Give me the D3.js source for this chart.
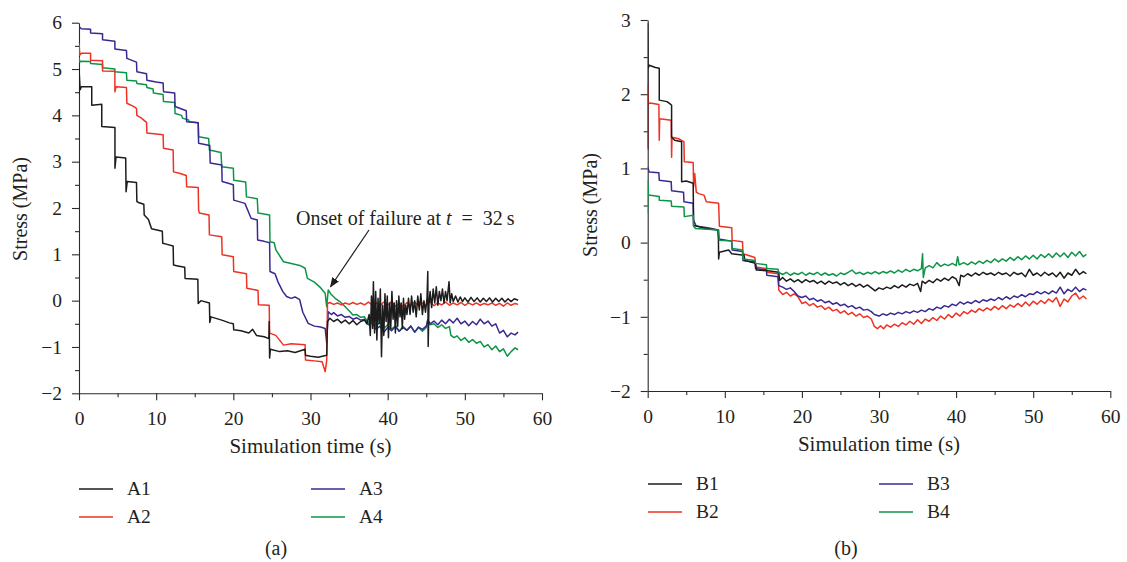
<!DOCTYPE html>
<html>
<head>
<meta charset="utf-8">
<script src="https://cdn.jsdelivr.net/npm/d3@7/dist/d3.min.js"></script>
<style>
  html, body { margin: 0; padding: 0; background: #fff; }
  svg text { font-family: "Liberation Serif", "DejaVu Serif", serif; fill: #231f20; }
</style>
</head>
<body>
<svg id="chart" width="1127" height="562"></svg>
<script>
// ---- Panel (a): stress histories at points A1–A4, [time s, stress MPa] ----
const seriesA1 = [[0,4.45],[0,5.0],[0.15,4.55],[0.3,4.62],[1.65,4.62],[1.65,4.22],[2.95,4.24],[2.95,3.76],[4.66,3.74],[4.66,2.86],[4.8,3.1],[6.05,3.08],[6.1,2.35],[6.25,2.57],[7.45,2.55],[7.5,2.14],[7.7,2.12],[8.4,2.08],[8.45,1.85],[9.0,1.75],[9.4,1.55],[10.8,1.5],[10.85,1.24],[11.3,1.22],[12.2,1.18],[12.25,0.77],[12.8,0.75],[13.7,0.72],[13.75,0.48],[15.4,0.46],[15.45,-0.06],[15.8,0.0],[16.9,-0.05],[16.95,-0.47],[17.1,-0.35],[18.5,-0.42],[19.5,-0.48],[20.0,-0.5],[20.05,-0.63],[21,-0.65],[22,-0.7],[22.5,-0.62],[23,-0.75],[24,-0.78],[24.6,-0.82],[24.65,-0.45],[24.7,-1.24],[24.8,-1.05],[26,-1.1],[27,-1.08],[28,-1.12],[29.3,-1.05],[29.35,-1.18],[30,-1.2],[31,-1.22],[32.1,-1.18],[32.2,-0.45],[32.5,-0.38],[33,-0.45],[33.5,-0.4],[34,-0.48],[34.5,-0.42],[35,-0.5],[35.5,-0.43],[36,-0.52],[36.5,-0.45],[37,-0.42],[37.3,-0.5],[37.6,-0.3],[37.75,-0.75],[37.9,0.1],[38.05,-0.6],[38.15,0.41],[38.3,-0.7],[38.45,0.2],[38.6,-0.85],[38.75,0.05],[38.9,-0.5],[39.05,0.25],[39.2,-1.21],[39.35,-0.1],[39.5,-0.75],[39.65,0.15],[39.8,-0.45],[39.95,0.1],[40.1,-0.8],[40.25,-0.05],[40.4,-0.6],[40.55,0.2],[40.7,-0.4],[40.85,-0.05],[41.0,-0.7],[41.15,0.0],[41.3,-0.55],[41.45,0.1],[41.6,-0.35],[41.75,-0.05],[41.9,-0.6],[42.05,0.05],[42.2,-0.4],[42.35,-0.1],[42.5,-0.3],[42.7,0.05],[42.9,-0.3],[43.1,0.1],[43.3,-0.25],[43.5,0.0],[43.7,-0.35],[43.9,0.1],[44.1,-0.2],[44.3,0.15],[44.5,-0.3],[44.7,0.0],[44.9,-0.25],[45.1,0.05],[45.2,0.63],[45.25,-0.99],[45.35,-0.1],[45.5,0.2],[45.7,-0.15],[45.9,0.25],[46.1,-0.05],[46.3,0.3],[46.5,-0.1],[46.7,0.2],[46.9,0.0],[47.1,0.25],[47.3,-0.05],[47.5,0.2],[47.7,0.0],[47.95,0.41],[48.1,-0.05],[48.3,0.15],[48.5,-0.02],[48.8,0.1],[49.1,-0.03],[49.4,0.08],[49.7,-0.02],[50,0.06],[50.4,-0.03],[50.8,0.07],[51.2,-0.02],[51.6,0.06],[52,-0.03],[52.4,0.05],[52.8,-0.02],[53.2,0.06],[53.6,-0.03],[54,0.05],[54.4,-0.02],[54.8,0.05],[55.2,-0.03],[55.6,0.04],[56,-0.02],[56.4,0.04],[56.9,0.01]];
const seriesA2 = [[0,5.55],[0.1,5.3],[0.3,5.34],[1.5,5.34],[1.5,5.19],[3.05,5.18],[3.05,4.96],[4.65,4.95],[4.65,4.51],[4.8,4.62],[6.15,4.6],[6.2,4.26],[7.0,4.2],[7.45,4.15],[7.5,4.0],[8.0,3.95],[8.75,3.85],[8.8,3.62],[10.9,3.58],[10.95,3.29],[12.2,3.25],[12.25,2.78],[13.0,2.75],[13.9,2.7],[13.95,2.46],[15.45,2.44],[15.5,1.96],[15.6,1.89],[16.85,1.85],[16.9,1.42],[18.5,1.38],[18.55,0.99],[20.0,0.95],[20.05,0.63],[21.7,0.58],[21.75,0.27],[23.2,0.22],[23.25,-0.09],[24.65,-0.1],[24.7,-0.7],[25.5,-0.75],[26.5,-0.96],[27.5,-0.93],[29.3,-0.95],[29.35,-1.28],[30.5,-1.3],[31.5,-1.32],[31.9,-1.53],[32.1,-1.3],[32.2,-0.06],[32.5,-0.04],[33,-0.08],[33.5,-0.05],[34,-0.09],[34.5,-0.05],[35,-0.08],[35.5,-0.04],[36,-0.08],[36.5,-0.05],[37,-0.09],[37.5,-0.03],[38,-0.1],[38.5,-0.04],[39,-0.11],[39.5,-0.03],[40,-0.1],[40.5,-0.02],[41,-0.12],[41.5,-0.05],[42,-0.13],[42.5,-0.04],[43,-0.1],[43.5,-0.03],[44,-0.12],[44.5,-0.05],[45,-0.1],[45.5,-0.02],[46,-0.11],[46.5,-0.05],[47,-0.09],[47.5,-0.03],[48,-0.1],[48.5,-0.05],[49,-0.09],[49.5,-0.04],[50,-0.1],[50.5,-0.05],[51,-0.09],[51.5,-0.05],[52,-0.1],[52.5,-0.06],[53,-0.09],[53.5,-0.05],[54,-0.1],[54.5,-0.06],[55,-0.12],[55.5,-0.05],[56,-0.1],[56.5,-0.06],[56.9,-0.08]];
const seriesA3 = [[0,5.92],[0.3,5.87],[1.5,5.86],[1.5,5.78],[3.05,5.76],[3.05,5.63],[4.65,5.6],[4.65,5.43],[6.15,5.4],[6.2,5.23],[7.45,5.15],[7.5,4.94],[8.75,4.9],[8.8,4.76],[10.0,4.72],[10.9,4.7],[10.95,4.51],[12.4,4.48],[12.45,4.19],[13.9,4.1],[13.95,3.86],[15.45,3.84],[15.5,3.40],[16.95,3.35],[17.0,2.97],[18.5,2.93],[18.55,2.57],[20.0,2.5],[20.05,2.17],[21.5,2.1],[22.3,1.78],[23.1,1.74],[23.15,1.31],[24.0,1.28],[24.7,1.25],[24.75,0.63],[25.4,0.58],[25.8,0.4],[26.4,0.2],[26.9,0.09],[27.5,0.05],[28.0,0.08],[28.6,0.02],[29.0,-0.25],[29.7,-0.49],[30.5,-0.55],[31.3,-0.57],[31.9,-0.6],[32.1,-0.92],[32.3,-0.24],[32.7,-0.3],[33,-0.26],[33.5,-0.33],[34,-0.3],[34.5,-0.36],[35,-0.34],[35.5,-0.4],[36,-0.37],[36.5,-0.42],[37,-0.4],[37.5,-0.52],[38,-0.48],[38.5,-0.62],[39,-0.55],[39.5,-0.68],[40,-0.58],[40.5,-0.65],[41,-0.56],[41.5,-0.66],[42,-0.58],[42.5,-0.64],[43,-0.55],[43.5,-0.68],[44,-0.57],[44.5,-0.62],[45,-0.55],[45.2,-0.42],[45.5,-0.5],[46,-0.44],[46.5,-0.52],[47,-0.42],[47.5,-0.5],[48,-0.4],[48.5,-0.48],[49,-0.38],[49.5,-0.5],[50,-0.44],[50.5,-0.54],[51,-0.45],[51.5,-0.52],[52,-0.4],[52.5,-0.5],[53,-0.44],[53.5,-0.55],[54,-0.5],[54.5,-0.7],[55,-0.64],[55.5,-0.78],[56,-0.7],[56.5,-0.74],[56.9,-0.68]];
const seriesA4 = [[0,5.25],[0.1,5.15],[0.3,5.17],[1.5,5.16],[1.5,5.12],[3.05,5.1],[3.05,5.03],[4.65,5.0],[4.65,4.94],[6.15,4.92],[6.2,4.76],[7.45,4.74],[7.5,4.69],[8.75,4.66],[8.8,4.6],[9.6,4.57],[9.65,4.48],[10.9,4.45],[10.95,4.3],[12.4,4.28],[12.45,4.04],[13.3,4.0],[13.4,3.94],[14.2,3.9],[14.3,3.86],[15.45,3.84],[15.5,3.54],[16.8,3.5],[16.9,3.25],[18.4,3.2],[18.5,2.89],[20.0,2.86],[20.05,2.6],[21.6,2.56],[21.7,2.24],[23.1,2.2],[23.2,1.89],[24.7,1.85],[24.75,1.27],[25.3,1.25],[25.5,1.1],[26.5,0.84],[27.5,0.8],[28.6,0.76],[29.3,0.7],[29.6,0.48],[30.5,0.4],[31.3,0.28],[31.9,0.16],[32.1,-0.13],[32.3,0.23],[32.6,0.15],[33.2,0.05],[33.8,-0.02],[34.3,-0.1],[35,-0.22],[35.5,-0.31],[36,-0.3],[36.5,-0.36],[37,-0.35],[37.5,-0.48],[38,-0.42],[38.5,-0.55],[39,-0.47],[39.5,-0.6],[40,-0.52],[40.5,-0.62],[41,-0.54],[41.5,-0.66],[42,-0.56],[42.5,-0.64],[43,-0.55],[43.5,-0.68],[44,-0.58],[44.5,-0.66],[45,-0.58],[45.2,-0.4],[45.5,-0.52],[46,-0.5],[46.5,-0.58],[47,-0.52],[47.5,-0.6],[48,-0.56],[48.2,-0.75],[48.6,-0.8],[49,-0.76],[49.5,-0.86],[50,-0.8],[50.5,-0.9],[51,-0.84],[51.5,-0.92],[52,-0.88],[52.5,-1.0],[53,-0.95],[53.5,-1.06],[54,-0.98],[54.5,-1.1],[55,-1.04],[55.5,-1.2],[56,-1.1],[56.5,-1.02],[56.9,-1.06]];

// ---- Panel (b): stress histories at points B1–B4 ----
const seriesB1 = [[0,1.25],[0,2.95],[0.05,2.35],[0.2,2.39],[1.0,2.36],[1.5,2.35],[1.5,1.92],[2.5,1.9],[2.9,1.87],[3.1,1.85],[3.1,1.42],[3.5,1.38],[4.4,1.36],[4.4,0.82],[5.0,0.83],[5.9,0.8],[5.95,0.23],[6.5,0.22],[7.5,0.19],[9.16,0.17],[9.2,-0.22],[9.3,-0.13],[10.5,-0.1],[10.9,-0.15],[12.5,-0.17],[12.6,-0.24],[14.0,-0.28],[14.1,-0.37],[15.6,-0.38],[17.0,-0.4],[17.1,-0.51],[17.5,-0.47],[18,-0.52],[18.5,-0.49],[19,-0.53],[19.5,-0.5],[20,-0.54],[20.5,-0.5],[21,-0.53],[21.5,-0.51],[22,-0.55],[22.5,-0.52],[23,-0.56],[23.5,-0.52],[24,-0.55],[24.5,-0.53],[25,-0.57],[25.5,-0.54],[26,-0.58],[26.5,-0.55],[27,-0.59],[27.5,-0.56],[28,-0.6],[28.5,-0.57],[29,-0.61],[29.5,-0.65],[30,-0.61],[30.5,-0.63],[31,-0.6],[31.5,-0.62],[32,-0.58],[32.5,-0.61],[33,-0.57],[33.5,-0.6],[34,-0.56],[34.5,-0.58],[35,-0.55],[35.4,-0.66],[35.6,-0.52],[36,-0.55],[36.5,-0.51],[37,-0.54],[37.5,-0.49],[38,-0.52],[38.5,-0.48],[39,-0.51],[39.5,-0.46],[40,-0.49],[40.4,-0.58],[40.6,-0.44],[41,-0.46],[41.5,-0.42],[42,-0.45],[42.5,-0.41],[43,-0.44],[43.5,-0.4],[44,-0.43],[44.5,-0.41],[45,-0.44],[45.5,-0.4],[46,-0.43],[46.5,-0.41],[47,-0.45],[47.5,-0.4],[48,-0.43],[48.5,-0.41],[49,-0.46],[49.5,-0.36],[50,-0.44],[50.5,-0.41],[51,-0.45],[51.5,-0.4],[52,-0.44],[52.5,-0.41],[53,-0.46],[53.5,-0.4],[54,-0.48],[54.5,-0.41],[55,-0.44],[55.5,-0.36],[56,-0.43],[56.5,-0.39],[56.9,-0.42]];
const seriesB2 = [[0,1.29],[0,2.12],[0.1,1.87],[0.3,1.88],[1.45,1.86],[1.5,1.38],[1.55,1.67],[3.05,1.65],[3.1,1.15],[3.15,1.42],[4.0,1.4],[4.7,1.36],[4.75,1.09],[5.9,1.08],[5.95,0.75],[6.1,0.93],[6.3,0.68],[6.6,0.66],[7.3,0.64],[7.6,0.55],[9.2,0.53],[9.3,0.22],[10.9,0.2],[10.95,0.03],[12.3,0.01],[12.35,-0.15],[13.0,-0.17],[13.9,-0.2],[14.0,-0.33],[15.4,-0.35],[15.45,-0.4],[16.9,-0.42],[17.0,-0.64],[17.5,-0.7],[18,-0.67],[18.5,-0.72],[19,-0.69],[19.5,-0.73],[20,-0.82],[20.5,-0.8],[21,-0.85],[21.5,-0.82],[22,-0.87],[22.5,-0.85],[23,-0.9],[23.5,-0.87],[24,-0.92],[24.5,-0.9],[25,-0.95],[25.5,-0.92],[26,-0.97],[26.5,-0.94],[27,-0.99],[27.5,-0.96],[28,-1.01],[28.5,-0.99],[29,-1.03],[29.4,-1.13],[29.8,-1.16],[30.2,-1.12],[30.6,-1.16],[31,-1.11],[31.5,-1.14],[32,-1.1],[32.5,-1.13],[33,-1.08],[33.5,-1.11],[34,-1.06],[34.5,-1.1],[35,-1.04],[35.5,-1.09],[36,-1.03],[36.5,-1.06],[37,-1.01],[37.5,-1.05],[38,-0.99],[38.5,-1.03],[39,-0.97],[39.5,-1.01],[40,-0.95],[40.5,-0.99],[41,-0.93],[41.5,-0.96],[42,-0.91],[42.5,-0.94],[43,-0.89],[43.5,-0.92],[44,-0.88],[44.5,-0.91],[45,-0.86],[45.5,-0.9],[46,-0.85],[46.5,-0.89],[47,-0.84],[47.5,-0.87],[48,-0.82],[48.5,-0.86],[49,-0.8],[49.5,-0.85],[50,-0.79],[50.5,-0.83],[51,-0.78],[51.5,-0.82],[52,-0.76],[52.5,-0.8],[53,-0.74],[53.5,-0.86],[54,-0.76],[54.5,-0.8],[55,-0.72],[55.5,-0.68],[56,-0.76],[56.5,-0.72],[56.9,-0.76]];
const seriesB3 = [[0,1.02],[0.2,0.95],[1.45,0.94],[1.5,0.84],[3.05,0.82],[3.1,0.70],[4.65,0.68],[4.7,0.55],[5.9,0.53],[5.95,0.30],[6.3,0.22],[7.8,0.2],[9.1,0.17],[9.2,0.05],[10.9,0.02],[10.95,-0.1],[12.3,-0.12],[12.35,-0.24],[13.9,-0.26],[14.0,-0.35],[15.4,-0.37],[15.45,-0.44],[16.9,-0.46],[17.0,-0.58],[17.5,-0.6],[18,-0.63],[18.5,-0.61],[19,-0.66],[19.5,-0.72],[20,-0.74],[20.5,-0.72],[21,-0.77],[21.5,-0.75],[22,-0.79],[22.5,-0.77],[23,-0.81],[23.5,-0.79],[24,-0.83],[24.5,-0.81],[25,-0.85],[25.5,-0.83],[26,-0.87],[26.5,-0.85],[27,-0.89],[27.5,-0.87],[28,-0.91],[28.5,-0.9],[29,-0.93],[29.4,-0.97],[30,-0.99],[30.5,-0.96],[31,-0.98],[31.5,-0.95],[32,-0.97],[32.5,-0.94],[33,-0.96],[33.5,-0.93],[34,-0.95],[34.5,-0.92],[35,-0.94],[35.5,-0.91],[36,-0.93],[36.5,-0.89],[37,-0.91],[37.5,-0.87],[38,-0.89],[38.5,-0.85],[39,-0.87],[39.5,-0.83],[40,-0.85],[40.5,-0.8],[41,-0.83],[41.5,-0.8],[42,-0.82],[42.5,-0.78],[43,-0.81],[43.5,-0.77],[44,-0.79],[44.5,-0.76],[45,-0.78],[45.5,-0.74],[46,-0.77],[46.5,-0.73],[47,-0.76],[47.5,-0.72],[48,-0.74],[48.5,-0.7],[49,-0.73],[49.5,-0.69],[50,-0.7],[50.5,-0.66],[51,-0.69],[51.5,-0.66],[52,-0.69],[52.5,-0.65],[53,-0.68],[53.5,-0.6],[54,-0.69],[54.5,-0.63],[55,-0.66],[55.5,-0.6],[56,-0.66],[56.5,-0.62],[56.9,-0.64]];
const seriesB4 = [[0,0.39],[0,0.84],[0.1,0.64],[1.5,0.62],[1.5,0.57],[3.05,0.56],[3.1,0.49],[4.7,0.48],[4.75,0.35],[5.9,0.37],[5.95,0.22],[6.2,0.19],[9.2,0.17],[9.3,0.03],[10.9,0.02],[10.95,-0.08],[12.3,-0.1],[12.35,-0.22],[13.9,-0.24],[14.0,-0.28],[15.4,-0.3],[15.45,-0.35],[16.9,-0.36],[17.0,-0.4],[17.5,-0.43],[18,-0.4],[18.5,-0.44],[19,-0.41],[19.5,-0.43],[20,-0.4],[20.5,-0.44],[21,-0.41],[21.5,-0.43],[22,-0.4],[22.5,-0.44],[23,-0.41],[23.5,-0.44],[24,-0.42],[24.5,-0.45],[25,-0.41],[25.5,-0.43],[26,-0.4],[26.5,-0.37],[27,-0.42],[27.5,-0.4],[28,-0.43],[28.5,-0.4],[29,-0.42],[29.5,-0.39],[30,-0.42],[30.5,-0.39],[31,-0.41],[31.5,-0.38],[32,-0.41],[32.5,-0.37],[33,-0.4],[33.5,-0.36],[34,-0.39],[34.5,-0.36],[35,-0.38],[35.5,-0.35],[35.65,-0.15],[35.75,-0.47],[36,-0.34],[36.5,-0.31],[37,-0.34],[37.5,-0.27],[38,-0.32],[38.5,-0.29],[39,-0.31],[39.5,-0.28],[40,-0.31],[40.2,-0.19],[40.4,-0.3],[41,-0.27],[41.5,-0.3],[42,-0.26],[42.5,-0.29],[43,-0.25],[43.5,-0.28],[44,-0.24],[44.5,-0.27],[45,-0.22],[45.5,-0.26],[46,-0.22],[46.5,-0.25],[47,-0.2],[47.5,-0.24],[48,-0.19],[48.5,-0.23],[49,-0.18],[49.5,-0.22],[50,-0.17],[50.5,-0.22],[51,-0.16],[51.5,-0.2],[52,-0.15],[52.5,-0.2],[53,-0.14],[53.5,-0.19],[54,-0.14],[54.5,-0.2],[55,-0.13],[55.5,-0.18],[56,-0.12],[56.5,-0.19],[56.9,-0.16]];

const seriesNamesA = ["A1", "A2", "A3", "A4"];
const seriesNamesB = ["B1", "B2", "B3", "B4"];
const lineColors = ["#1c1c1c", "#ee3224", "#3a2891", "#0e9446"];

const xTicks = [0, 10, 20, 30, 40, 50, 60];
const xMinorTicks = [5, 15, 25, 35, 45, 55];
const yTicksA = [-2, -1, 0, 1, 2, 3, 4, 5, 6];
const yMinorTicksA = [-1.5, -0.5, 0.5, 1.5, 2.5, 3.5, 4.5, 5.5];
const yTicksB = [-2, -1, 0, 1, 2, 3];
const yMinorTicksB = [-1.5, -0.5, 0.5, 1.5, 2.5];

const xLabel = "Simulation time (s)";
const yLabel = "Stress (MPa)";

const svg = d3.select("#chart");
const axisColor = "#2b2b2b";
const fontSize = "19.5px";

function drawPanel(cfg) {
  const x = d3.scaleLinear().domain([0, 60]).range([cfg.left, cfg.right]);
  const y = d3.scaleLinear().domain(cfg.yDomain).range([cfg.bottom, cfg.top]);
  const g = svg.append("g");

  // minor ticks
  g.append("g").attr("transform", `translate(0,${cfg.bottom})`)
    .call(d3.axisBottom(x).tickValues(xMinorTicks).tickSize(4).tickFormat(""))
    .call(s => s.select(".domain").remove());
  g.append("g").attr("transform", `translate(${cfg.left},0)`)
    .call(d3.axisLeft(y).tickValues(cfg.yMinor).tickSize(4).tickFormat(""))
    .call(s => s.select(".domain").remove());

  // major axes
  const xa = g.append("g").attr("transform", `translate(0,${cfg.bottom})`)
    .call(d3.axisBottom(x).tickValues(xTicks).tickSize(7).tickSizeOuter(0).tickPadding(11).tickFormat(d3.format("d")));
  const ya = g.append("g").attr("transform", `translate(${cfg.left},0)`)
    .call(d3.axisLeft(y).tickValues(cfg.yTicks).tickSize(7).tickSizeOuter(0).tickPadding(10).tickFormat(d3.format("d")));
  [xa, ya].forEach(a => {
    a.selectAll("text").style("font-size", fontSize).style("font-family", "Liberation Serif").attr("fill", "#231f20");
  });
  g.selectAll(".domain, .tick line").attr("stroke", axisColor).attr("stroke-width", 1.1);

  // series lines
  const line = d3.line().x(d => x(d[0])).y(d => y(d[1]));
  const clipId = "clip-" + cfg.id;
  svg.append("clipPath").attr("id", clipId).append("rect")
    .attr("x", cfg.left).attr("y", cfg.top - 5).attr("width", cfg.right - cfg.left).attr("height", cfg.bottom - cfg.top + 5);
  const lines = g.append("g").attr("clip-path", `url(#${clipId})`);
  cfg.order.forEach(i => {
    lines.append("path").datum(cfg.series[i])
      .attr("fill", "none").attr("stroke", lineColors[i])
      .attr("stroke-width", 1.5).attr("stroke-linejoin", "round")
      .attr("d", line);
  });

  // axis titles
  g.append("text").attr("x", (cfg.left + cfg.right) / 2).attr("y", cfg.xLabelY)
    .attr("text-anchor", "middle").style("font-size", "21px").text(xLabel);
  g.append("text")
    .attr("transform", `translate(${cfg.yLabelX},${cfg.yLabelY}) rotate(-90)`)
    .attr("text-anchor", "middle").style("font-size", "20px").text(yLabel);

  // legend (two columns)
  cfg.names.forEach((name, i) => {
    const col = i < 2 ? 0 : 1, row = i % 2;
    const lx = cfg.legend.x[col], ly = cfg.legend.y[row];
    g.append("line").attr("x1", lx).attr("x2", lx + 34).attr("y1", ly).attr("y2", ly)
      .attr("stroke", lineColors[i]).attr("stroke-width", 1.6);
    g.append("text").attr("x", lx + 48).attr("y", ly + 6).style("font-size", fontSize).text(name);
  });

  // panel caption
  g.append("text").attr("x", cfg.captionX).attr("y", 555)
    .attr("text-anchor", "middle").style("font-size", "20px").text(cfg.caption);

  return { x, y, g };
}

const panelA = drawPanel({
  id: "a", left: 79, right: 542, top: 22.7, bottom: 393.3, yDomain: [-2, 6],
  yTicks: yTicksA, yMinor: yMinorTicksA,
  series: [seriesA1, seriesA2, seriesA3, seriesA4], order: [3, 2, 1, 0],
  names: seriesNamesA, xLabelY: 453, yLabelX: 27, yLabelY: 209,
  legend: { x: [79, 311], y: [489, 517] }, caption: "(a)", captionX: 276
});

const panelB = drawPanel({
  id: "b", left: 647.7, right: 1110.3, top: 20, bottom: 391, yDomain: [-2, 3],
  yTicks: yTicksB, yMinor: yMinorTicksB,
  series: [seriesB1, seriesB2, seriesB3, seriesB4], order: [1, 2, 0, 3],
  names: seriesNamesB, xLabelY: 451, yLabelX: 597, yLabelY: 205,
  legend: { x: [648, 879], y: [484, 512] }, caption: "(b)", captionX: 846
});

// failure-onset annotation on panel (a)
const onsetTime = 32;
const onset = svg.append("g");
const note = onset.append("text").attr("x", 296).attr("y", 225).style("font-size", "20px");
note.append("tspan").text("Onset of failure at ");
note.append("tspan").style("font-style", "italic").text("t");
note.append("tspan").text("\u2002=\u2002" + onsetTime + "\u2009s");

svg.append("defs").append("marker").attr("id", "arrowhead")
  .attr("viewBox", "0 0 10 10").attr("refX", 9).attr("refY", 5)
  .attr("markerWidth", 10).attr("markerHeight", 10).attr("markerUnits", "userSpaceOnUse")
  .attr("orient", "auto")
  .append("path").attr("d", "M0,1 L10,5 L0,9 Z").attr("fill", "#1c1c1c");
onset.append("line")
  .attr("x1", 369).attr("y1", 230)
  .attr("x2", panelA.x(onsetTime + 0.6)).attr("y2", panelA.y(0.3))
  .attr("stroke", "#1c1c1c").attr("stroke-width", 1.2)
  .attr("marker-end", "url(#arrowhead)");
</script>
</body>
</html>
